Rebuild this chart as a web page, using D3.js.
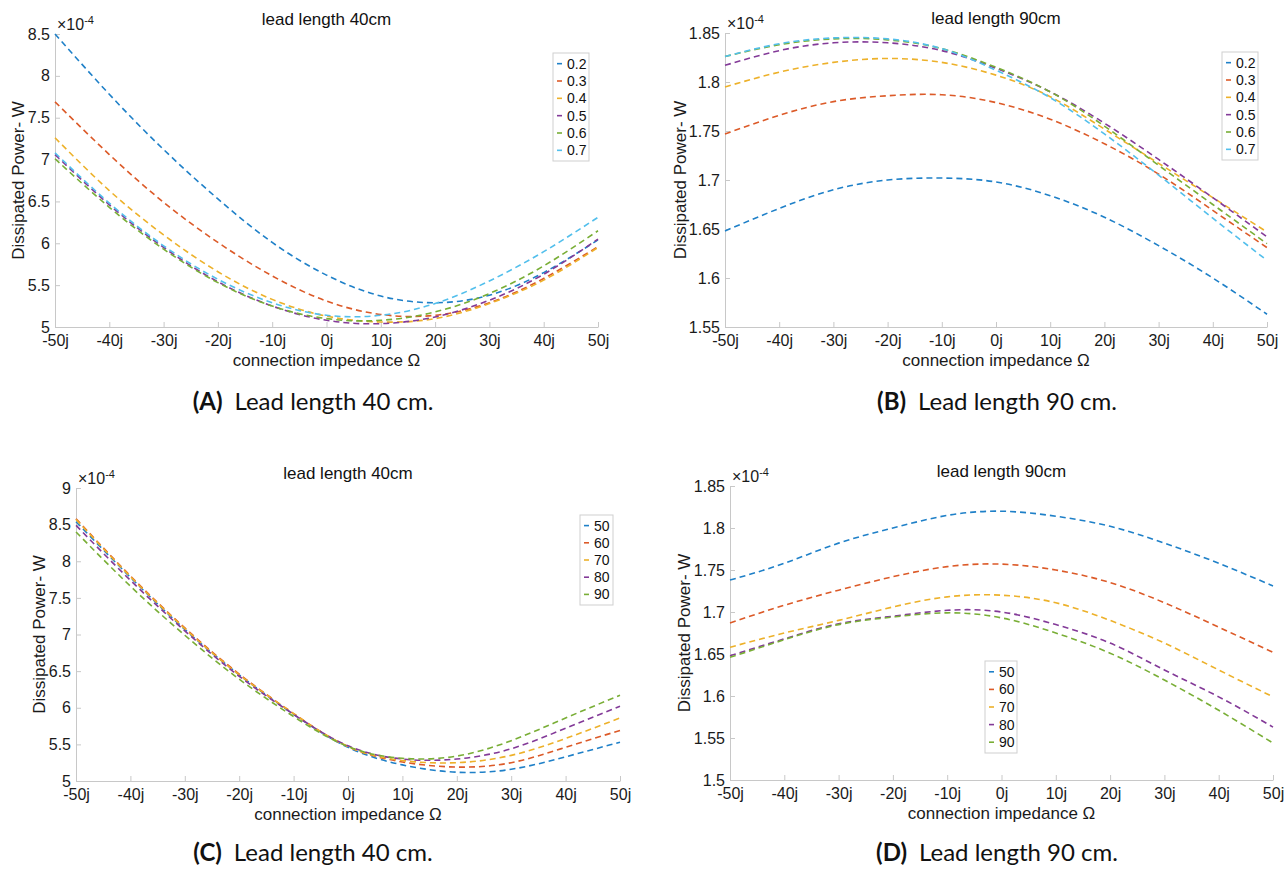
<!doctype html>
<html lang="en">
<head>
  <meta charset="utf-8">
  <title>Dissipated power vs connection impedance</title>
  <style>
    body { margin: 0; background: #fff; }
    svg { display: block; }
    .axis path, .axis line { stroke: #c8c8c8; stroke-width: 1; }
    .axis text {
      font-family: "Liberation Sans", Arial, sans-serif;
      font-size: 16px;
      fill: #1a1a1a;
    }
    .lbl {
      font-family: "Liberation Sans", Arial, sans-serif;
      font-size: 17px;
      fill: #1a1a1a;
    }
    .ttl {
      font-family: "Liberation Sans", Arial, sans-serif;
      font-size: 17px;
      fill: #111;
    }
    .legend text {
      font-family: "Liberation Sans", Arial, sans-serif;
      font-size: 14px;
      fill: #111;
    }
    .caption {
      font-family: Lato, "Open Sans", sans-serif;
      font-size: 24px;
      fill: #111;
    }
    .series {
      fill: none;
      stroke-width: 1.6;
      stroke-dasharray: 6,4;
    }
  </style>
</head>

<body>
  <div id="chart"></div>

  <script src="https://cdn.jsdelivr.net/npm/d3@7/dist/d3.min.js"></script>

  <script>
// impedance (imaginary part, ohm)
var impedance = [-50, -40, -30, -20, -10, 0, 10, 20, 30, 40, 50];
var xTicks = [-50, -40, -30, -20, -10, 0, 10, 20, 30, 40, 50];
var xTickLabels = ["-50j", "-40j", "-30j", "-20j", "-10j", "0j", "10j", "20j", "30j", "40j", "50j"];

var ratioNames = ["0.2", "0.3", "0.4", "0.5", "0.6", "0.7"];
var angleNames = ["50", "60", "70", "80", "90"];

var colors = ["#1f80c8", "#dc5a28", "#edb12a", "#833a98", "#79ae36", "#52bfec"];

// (A) lead length 40cm, values x1e-4 W
var powerA = [
  [8.50, 7.78, 7.12, 6.53, 6.01, 5.62, 5.37, 5.29, 5.38, 5.65, 6.04],
  [7.69, 7.06, 6.49, 6.01, 5.61, 5.31, 5.15, 5.14, 5.29, 5.58, 5.96],
  [7.26, 6.63, 6.10, 5.66, 5.33, 5.13, 5.06, 5.10, 5.28, 5.56, 5.95],
  [7.06, 6.46, 5.95, 5.54, 5.25, 5.08, 5.04, 5.12, 5.32, 5.63, 6.05],
  [7.01, 6.43, 5.93, 5.53, 5.25, 5.10, 5.08, 5.18, 5.40, 5.73, 6.15],
  [7.08, 6.48, 5.97, 5.57, 5.29, 5.14, 5.14, 5.28, 5.55, 5.90, 6.31]
];
var yTicksA = [5, 5.5, 6, 6.5, 7, 7.5, 8, 8.5];
var yTickLabelsA = ["5", "5.5", "6", "6.5", "7", "7.5", "8", "8.5"];

// (B) lead length 90cm
var powerB = [
  [1.648, 1.671, 1.690, 1.700, 1.702, 1.698, 1.684, 1.662, 1.633, 1.600, 1.563],
  [1.747, 1.766, 1.780, 1.786, 1.787, 1.779, 1.762, 1.737, 1.706, 1.669, 1.631],
  [1.795, 1.810, 1.820, 1.824, 1.820, 1.807, 1.785, 1.752, 1.717, 1.682, 1.647],
  [1.817, 1.832, 1.840, 1.840, 1.832, 1.814, 1.790, 1.758, 1.721, 1.682, 1.642],
  [1.826, 1.838, 1.844, 1.843, 1.834, 1.815, 1.790, 1.755, 1.715, 1.675, 1.635],
  [1.826, 1.839, 1.845, 1.844, 1.834, 1.812, 1.784, 1.747, 1.705, 1.661, 1.618]
];
var yTicksB = [1.55, 1.6, 1.65, 1.7, 1.75, 1.8, 1.85];
var yTickLabelsB = ["1.55", "1.6", "1.65", "1.7", "1.75", "1.8", "1.85"];

// (C) lead length 40cm
var powerC = [
  [8.54, 7.78, 7.07, 6.45, 5.91, 5.46, 5.22, 5.12, 5.16, 5.33, 5.53],
  [8.58, 7.80, 7.09, 6.46, 5.92, 5.47, 5.26, 5.19, 5.25, 5.46, 5.69],
  [8.57, 7.79, 7.08, 6.45, 5.92, 5.47, 5.28, 5.25, 5.35, 5.58, 5.86],
  [8.49, 7.74, 7.05, 6.43, 5.91, 5.48, 5.30, 5.30, 5.44, 5.72, 6.02],
  [8.40, 7.66, 6.99, 6.39, 5.88, 5.47, 5.31, 5.34, 5.55, 5.86, 6.17]
];
var yTicksC = [5, 5.5, 6, 6.5, 7, 7.5, 8, 8.5, 9];
var yTickLabelsC = ["5", "5.5", "6", "6.5", "7", "7.5", "8", "8.5", "9"];

// (D) lead length 90cm
var powerD = [
  [1.738, 1.758, 1.782, 1.800, 1.815, 1.820, 1.814, 1.802, 1.782, 1.758, 1.731],
  [1.687, 1.708, 1.726, 1.742, 1.754, 1.757, 1.750, 1.735, 1.711, 1.682, 1.652],
  [1.658, 1.675, 1.690, 1.706, 1.718, 1.720, 1.711, 1.690, 1.663, 1.631, 1.599],
  [1.648, 1.668, 1.686, 1.695, 1.702, 1.700, 1.685, 1.663, 1.631, 1.599, 1.563],
  [1.646, 1.667, 1.685, 1.694, 1.699, 1.693, 1.675, 1.651, 1.619, 1.583, 1.544]
];
var yTicksD = [1.5, 1.55, 1.6, 1.65, 1.7, 1.75, 1.8, 1.85];
var yTickLabelsD = ["1.5", "1.55", "1.6", "1.65", "1.7", "1.75", "1.8", "1.85"];

(function(){

  var width = 1284;
  var height = 873;

  var svg = d3.select("#chart")
      .append("svg")
      .attr("width", width)
      .attr("height", height);

  var panels = [
    { left: 55, right: 598, top: 34, bottom: 327, domain: [5, 8.5],
      ticks: yTicksA, tickLabels: yTickLabelsA, data: powerA, names: ratioNames,
      title: "lead length 40cm", ylabX: 24,
      legend: { x: 553, y: 53, w: 36, h: 108 },
      caption: { tag: "(A)", text: "Lead length 40 cm.", x: 313, y: 410 } },
    { left: 725, right: 1267, top: 33, bottom: 327, domain: [1.55, 1.85],
      ticks: yTicksB, tickLabels: yTickLabelsB, data: powerB, names: ratioNames,
      title: "lead length 90cm", ylabX: 686,
      legend: { x: 1222, y: 52, w: 36, h: 108 },
      caption: { tag: "(B)", text: "Lead length 90 cm.", x: 997, y: 410 } },
    { left: 76, right: 620, top: 488, bottom: 781, domain: [5, 9],
      ticks: yTicksC, tickLabels: yTickLabelsC, data: powerC, names: angleNames,
      title: "lead length 40cm", ylabX: 45,
      legend: { x: 580, y: 515, w: 33, h: 90 },
      caption: { tag: "(C)", text: "Lead length 40 cm.", x: 313, y: 861 } },
    { left: 730, right: 1273, top: 486, bottom: 780, domain: [1.5, 1.85],
      ticks: yTicksD, tickLabels: yTickLabelsD, data: powerD, names: angleNames,
      title: "lead length 90cm", ylabX: 690,
      legend: { x: 985, y: 661, w: 32, h: 92 },
      caption: { tag: "(D)", text: "Lead length 90 cm.", x: 997, y: 861 } }
  ];

  panels.forEach(function(p) {
    var x = d3.scaleLinear().domain([-50, 50]).range([p.left, p.right]);
    var y = d3.scaleLinear().domain(p.domain).range([p.bottom, p.top]);
    var g = svg.append("g");

    var xAxis = d3.axisBottom(x)
        .tickValues(xTicks)
        .tickFormat(function(d, i) { return xTickLabels[i]; })
        .tickSizeInner(-5).tickSizeOuter(0).tickPadding(8);
    var yAxis = d3.axisLeft(y)
        .tickValues(p.ticks)
        .tickFormat(function(d, i) { return p.tickLabels[i]; })
        .tickSizeInner(-5).tickSizeOuter(0).tickPadding(5);

    g.append("g").attr("class", "axis")
        .attr("transform", "translate(0," + p.bottom + ")")
        .call(xAxis);
    g.append("g").attr("class", "axis")
        .attr("transform", "translate(" + p.left + ",0)")
        .call(yAxis);

    // exponent
    var ex = g.append("text").attr("class", "lbl")
        .attr("x", p.left + 2).attr("y", p.top - 4)
        .style("font-size", "16px");
    ex.append("tspan").text("\u00d710");
    ex.append("tspan").attr("dy", -6).style("font-size", "11px").text("-4");

    var line = d3.line()
        .x(function(d, i) { return x(impedance[i]); })
        .y(function(d) { return y(d); })
        .curve(d3.curveNatural);

    g.selectAll(".series")
        .data(p.data)
      .enter().append("path")
        .attr("class", "series")
        .attr("stroke", function(d, i) { return colors[i]; })
        .attr("d", line);

    g.append("text").attr("class", "ttl")
        .attr("x", (p.left + p.right) / 2).attr("y", p.top - 9)
        .attr("text-anchor", "middle")
        .text(p.title);

    g.append("text").attr("class", "lbl")
        .attr("x", (p.left + p.right) / 2).attr("y", p.bottom + 39)
        .attr("text-anchor", "middle")
        .text("connection impedance \u03a9");

    g.append("text").attr("class", "lbl")
        .attr("transform", "translate(" + p.ylabX + "," + ((p.top + p.bottom) / 2) + ") rotate(-90)")
        .attr("text-anchor", "middle")
        .text("Dissipated Power- W");

    // legend
    var lg = g.append("g").attr("class", "legend")
        .attr("transform", "translate(" + p.legend.x + "," + p.legend.y + ")");
    lg.append("rect")
        .attr("width", p.legend.w).attr("height", p.legend.h)
        .attr("fill", "#fff").attr("stroke", "#cfcfcf");
    var step = (p.legend.h - 4) / p.names.length;
    var row = lg.selectAll(".row")
        .data(p.names)
      .enter().append("g")
        .attr("transform", function(d, i) { return "translate(0," + (2 + step * (i + 0.5)) + ")"; });
    row.append("line")
        .attr("x1", 4).attr("x2", 9)
        .attr("stroke", function(d, i) { return colors[i]; })
        .attr("stroke-width", 1.6);
    row.append("text")
        .attr("x", 14).attr("dy", "0.35em")
        .text(function(d) { return d; });

    // figure caption
    var cap = svg.append("text").attr("class", "caption")
        .attr("x", p.caption.x).attr("y", p.caption.y)
        .attr("text-anchor", "middle");
    cap.append("tspan").style("font-weight", "bold").text(p.caption.tag);
    cap.append("tspan").text("\u2002" + p.caption.text);
  });

})();
  </script>
</body>
</html>
